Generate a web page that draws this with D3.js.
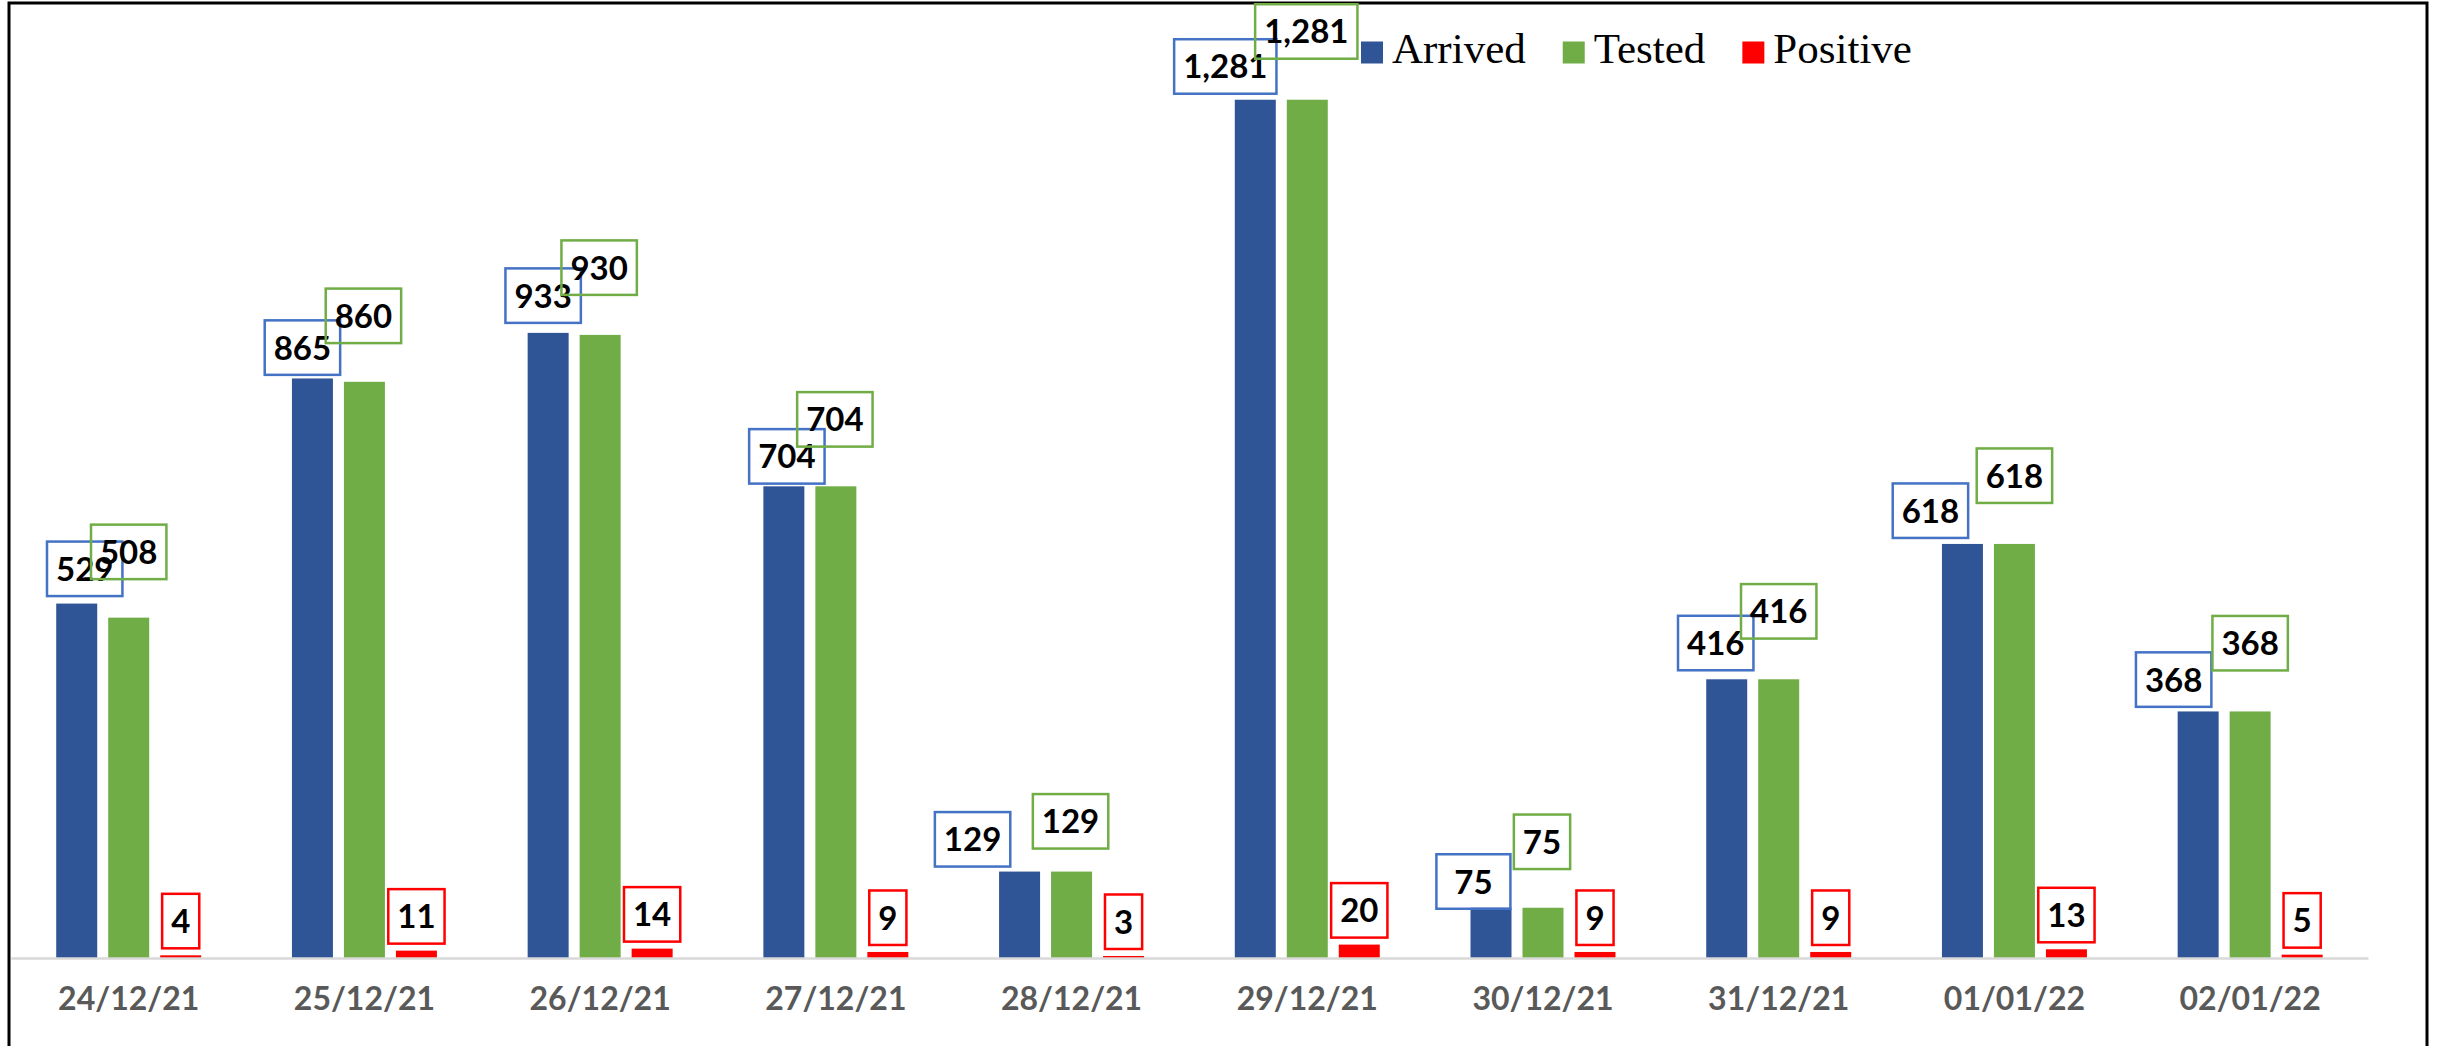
<!DOCTYPE html>
<html>
<head>
<meta charset="utf-8">
<script src="https://cdn.jsdelivr.net/npm/d3@7"></script>
<style>
  html, body { margin: 0; padding: 0; background: #fff; }
  svg { display: block; }
</style>
</head>
<body>
<script>
// ---- data ----
const categories = ["24/12/21","25/12/21","26/12/21","27/12/21","28/12/21","29/12/21","30/12/21","31/12/21","01/01/22","02/01/22"];
const seriesNames = ["Arrived","Tested","Positive"];
const arrived  = [529, 865, 933, 704, 129, 1281, 75, 416, 618, 368];
const tested   = [508, 860, 930, 704, 129, 1281, 75, 416, 618, 368];
const positive = [4, 11, 14, 9, 3, 20, 9, 9, 13, 5];

// ---- layout (label nudges as placed in the original, [dx, gap above bar]) ----
const arrivedLabelNudge = [[8,7.5],[-10,3.6],[-5,10],[3,2.7],[-47,5],[-30,6],[-17.6,-1],[-11,9],[-32,6],[-24.5,4.6]];
const testedLabelNudge  = [[0,38.5],[-1,38.7],[-1,40],[-1,39.7],[-1,23],[-1,41],[-1,38.7],[0,40.7],[0,41],[0,41]];
const positiveLabelNudge = [[0,7],[0,7],[0,7],[0,7],[0,7],[0,7],[0,7],[0,7],[0,7],[0,7]];

const W = 2440, H = 1046;
const barColors = {Arrived: "#2F5597", Tested: "#70AD47", Positive: "#FF0000"};
const boxColors = {Arrived: "#4472C4", Tested: "#70AD47", Positive: "#FF0000"};

const svg = d3.select("body").append("svg").attr("width", W).attr("height", H);

const x0 = d3.scaleBand().domain(categories).range([10.85, 2368]).paddingInner(0).paddingOuter(0);
const x1 = d3.scaleBand().domain(seriesNames).range([0, x0.bandwidth()]).paddingInner(0.2115).paddingOuter(0.8726);
const y = d3.scaleLinear().domain([0, 1400]).range([958, 20]);

const seriesData = {Arrived: arrived, Tested: tested, Positive: positive};
const nudges = {Arrived: arrivedLabelNudge, Tested: testedLabelNudge, Positive: positiveLabelNudge};

const rows = [];
seriesNames.forEach(s => {
  seriesData[s].forEach((v, i) => rows.push({series: s, cat: categories[i], value: v, i}));
});

// frame
svg.append("path")
  .attr("d", `M9,${H} V3 H2427 V${H}`)
  .attr("fill", "none").attr("stroke", "#000").attr("stroke-width", 3);

// bars
svg.append("g").selectAll("rect").data(rows).join("rect")
  .attr("x", d => x0(d.cat) + x1(d.series))
  .attr("width", x1.bandwidth())
  .attr("y", d => y(d.value))
  .attr("height", d => y(0) - y(d.value))
  .attr("fill", d => barColors[d.series]);

// x axis
const xAxis = svg.append("g").attr("transform", `translate(0,${y(0)})`)
  .call(d3.axisBottom(x0).tickSize(0).tickSizeOuter(0).tickPadding(29));
xAxis.select(".domain").attr("stroke", "#d9d9d9").attr("stroke-width", 2.5);
xAxis.selectAll("text")
  .attr("font-family", "Lato, 'Open Sans', sans-serif")
  .attr("font-weight", "bold")
  .attr("font-size", 32)
  .attr("fill", "#595959");

// data labels
const fmt = d3.format(",");
const labelG = svg.append("g");
const boxH = 54.5;
rows.forEach(d => {
  const g = labelG.append("g");
  const cx = x0(d.cat) + x1(d.series) + x1.bandwidth() / 2 + nudges[d.series][d.i][0];
  const bottom = y(d.value) - nudges[d.series][d.i][1];
  const t = g.append("text")
    .attr("x", cx)
    .attr("y", bottom - boxH / 2 + 12)
    .attr("text-anchor", "middle")
    .attr("font-family", "Lato, 'Open Sans', sans-serif")
    .attr("font-weight", "bold")
    .attr("font-size", 33)
    .attr("fill", "#000")
    .text(fmt(d.value));
  const tw = t.node().getComputedTextLength();
  let bw = tw + 18;
  if (d.series === "Arrived") bw = Math.max(bw, 74);
  g.insert("rect", "text")
    .attr("x", cx - bw / 2)
    .attr("y", bottom - boxH)
    .attr("width", bw)
    .attr("height", boxH)
    .attr("fill", "none")
    .attr("stroke", boxColors[d.series])
    .attr("stroke-width", 2.5);
});

// legend
const legend = svg.append("g");
let lx = 1361;
seriesNames.forEach(s => {
  legend.append("rect").attr("x", lx).attr("y", 41.5).attr("width", 22).attr("height", 22).attr("fill", barColors[s]);
  const t = legend.append("text")
    .attr("x", lx + 31).attr("y", 63)
    .attr("font-family", "'Liberation Serif', 'Times New Roman', serif")
    .attr("font-size", 43)
    .attr("fill", "#000")
    .text(s);
  lx = lx + 31 + t.node().getComputedTextLength() + 37;
});
</script>
</body>
</html>
